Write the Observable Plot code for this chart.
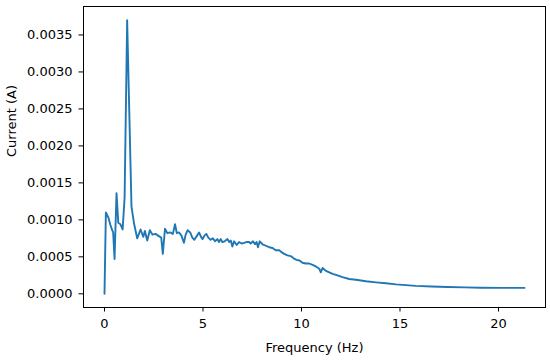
<!DOCTYPE html>
<html>
<head>
<meta charset="utf-8">
<script src="https://cdn.jsdelivr.net/npm/d3@7"></script>
<script src="https://cdn.jsdelivr.net/npm/@observablehq/plot@0.6"></script>
<style>
  html, body { margin: 0; padding: 0; background: white; }
</style>
</head>
<body>
<div id="chart"></div>
<script>
const freq = [0, 0.07, 0.2, 0.3, 0.39, 0.44, 0.51, 0.61, 0.70, 0.81, 0.92, 1.02, 1.15, 1.37, 1.5, 1.66, 1.83, 1.97, 2.05, 2.17, 2.30, 2.44, 2.59, 2.76, 2.88, 2.96, 3.07, 3.19, 3.33, 3.47, 3.58, 3.67, 3.78, 3.90, 4.03, 4.12, 4.22, 4.35, 4.46, 4.56, 4.68, 4.80, 4.90, 4.98, 5.08, 5.17, 5.27, 5.39, 5.5, 5.61, 5.73, 5.81, 5.9, 5.98, 6.1, 6.24, 6.33, 6.41, 6.49, 6.58, 6.71, 6.83, 6.96, 7.09, 7.2, 7.34, 7.42, 7.54, 7.64, 7.72, 7.79, 7.88, 8.02, 8.19, 8.36, 8.53, 8.69, 8.87, 8.95, 9.12, 9.29, 9.45, 9.6, 9.75, 9.9, 10.05, 10.22, 10.39, 10.56, 10.73, 10.9, 10.98, 11.07, 11.24, 11.41, 11.58, 11.83, 12.08, 12.42, 12.76, 13.27, 13.78, 14.29, 14.8, 15.3, 15.8, 16.6, 17.4, 18.3, 19.1, 20.2, 21.32];

const current = [0, 0.00110, 0.00103, 0.00093, 0.00086, 0.00083, 0.00047, 0.00136, 0.00096, 0.00094, 0.00087, 0.00130, 0.00370, 0.00118, 0.00095, 0.00075, 0.00087, 0.00077, 0.00085, 0.00072, 0.00086, 0.00080, 0.00081, 0.00078, 0.00076, 0.00054, 0.00088, 0.00082, 0.00083, 0.00081, 0.00094, 0.00082, 0.00083, 0.00079, 0.00069, 0.00080, 0.00086, 0.00083, 0.00076, 0.00073, 0.00078, 0.00083, 0.00077, 0.00074, 0.00079, 0.00081, 0.00076, 0.00073, 0.00075, 0.00071, 0.00074, 0.00070, 0.00074, 0.00070, 0.00071, 0.00074, 0.00070, 0.00072, 0.00064, 0.00071, 0.00066, 0.00070, 0.00068, 0.00069, 0.00070, 0.00070, 0.00068, 0.00071, 0.00067, 0.00070, 0.00063, 0.00071, 0.00067, 0.00065, 0.00063, 0.00062, 0.00059, 0.00059, 0.00057, 0.00054, 0.00052, 0.00051, 0.00048, 0.00046, 0.00045, 0.00042, 0.00041, 0.00041, 0.00039, 0.00037, 0.00034, 0.00029, 0.00035, 0.00031, 0.00029, 0.00027, 0.00025, 0.000225, 0.00020, 0.00019, 0.00017, 0.000155, 0.000142, 0.000128, 0.000118, 0.000108, 0.000099, 0.000092, 0.000087, 0.000083, 0.000081, 0.000080];

const xTicks = [0, 5, 10, 15, 20];
const yTicks = [0, 0.0005, 0.0010, 0.0015, 0.0020, 0.0025, 0.0030, 0.0035];
const xLabel = "Frequency (Hz)";
const yLabel = "Current (A)";

const data = freq.map((f, i) => ({f, c: current[i]}));

const chart = Plot.plot({
  width: 550,
  height: 361,
  marginLeft: 83,
  marginRight: 5,
  marginTop: 6,
  marginBottom: 54,
  style: {fontFamily: "'DejaVu Sans', sans-serif", fontSize: "13px", color: "black", background: "white", overflow: "visible"},
  x: {domain: [-1.066, 22.386]},
  y: {domain: [-0.000185, 0.003885]},
  marks: [
    Plot.axisX({ticks: xTicks, tickSize: 4.5, tickPadding: 6.5, tickFormat: d => String(d), label: null}),
    Plot.axisY({ticks: yTicks, tickSize: 4.5, tickPadding: 6.5, tickFormat: d3.format(".4f"), label: null}),
    Plot.text([xLabel], {text: d => d, frameAnchor: "bottom", dy: 40, lineAnchor: "middle", fontSize: 13, fill: "black"}),
    Plot.text([yLabel], {text: d => d, frameAnchor: "left", dx: -72, rotate: -90, lineAnchor: "middle", fontSize: 13, fill: "black"}),
    Plot.line(data, {x: "f", y: "c", stroke: "#1f77b4", strokeWidth: 1.9}),
    Plot.frame({stroke: "black", strokeWidth: 1})
  ]
});
document.getElementById("chart").appendChild(chart);
</script>
</body>
</html>
